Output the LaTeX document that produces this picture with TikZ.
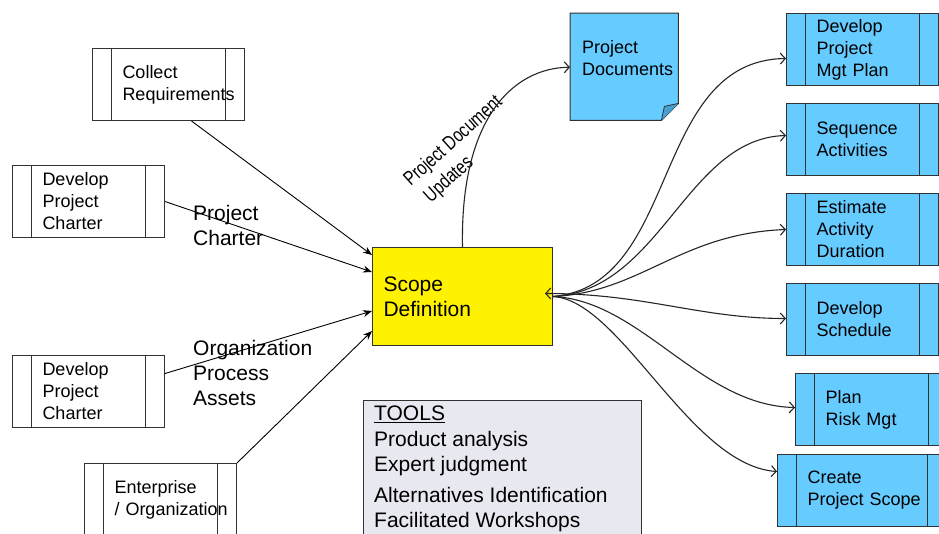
\documentclass[tikz,border=0pt]{standalone}
\usepackage{fontspec}
\setmainfont{Liberation Sans}
\usetikzlibrary{arrows.meta,calc,backgrounds}
\definecolor{procblue}{RGB}{102,204,255}
\definecolor{folddark}{RGB}{70,160,210}
\definecolor{toolsfill}{RGB}{232,232,240}
\definecolor{edgegray}{RGB}{50,50,50}
\newcommand\fBox{\fontsize{18}{22}\selectfont}
\newcommand\fBig{\fontsize{21}{25}\selectfont}
\newcommand\fTools{\fontsize{21}{25.5}\selectfont}
\newcommand\fRot{\fontsize{20}{25.5}\selectfont}
\tikzset{
  proc/.style={rectangle, draw=edgegray, line width=1pt, anchor=north west,
    minimum width=152pt, minimum height=72pt, inner xsep=30pt, inner ysep=0pt,
    text width=92pt, align=left, font=\fBox,
    path picture={
      \draw[edgegray, line width=1pt] ([xshift=19pt]path picture bounding box.north west) -- ([xshift=19pt]path picture bounding box.south west);
      \draw[edgegray, line width=1pt] ([xshift=-19pt]path picture bounding box.north east) -- ([xshift=-19pt]path picture bounding box.south east);}},
  procb/.style={proc, fill=procblue},
  inarrow/.style={draw=black, line width=0.9pt, -{Stealth[length=9pt,width=7pt]}},
  outarrow/.style={draw=black!85, line width=1.1pt, -{Straight Barb[length=5pt,width=11pt]}},
  lbl/.style={inner sep=0pt, align=left, font=\fBig},
}
\begin{document}
\begin{tikzpicture}[x=1pt,y=-1pt]
\clip (0,0) rectangle (939,533);
\begin{scope}[on background layer]
\fill[white] (0,0) rectangle (939,533);
\end{scope}

% input process boxes
\node[proc] (collect) at (92,48) {Collect\\Requirements};
\node[proc] (charterA) at (12,165) {Develop\\Project\\Charter};
\node[proc] (charterB) at (12,355) {Develop\\Project\\Charter};
\node[proc] (ent) at (84,463) {Enterprise\\\mbox{/ Organization}};

% scope definition
\node[rectangle, draw=edgegray, line width=1pt, fill=yellow, anchor=north west,
  minimum width=180pt, minimum height=98pt, inner xsep=11pt, text width=158pt,
  align=left, font=\fBig] (scope) at (372,247) {Scope\\Definition};

% project documents
\node[anchor=north west, minimum width=108pt, minimum height=90pt, inner xsep=12pt,
  text width=84pt, align=left, font=\fBox] (pdocs) at (570,13) {Project\\Documents};
\begin{scope}[on background layer]
\draw[edgegray, line width=1pt, fill=procblue]
  (pdocs.north west) -- (pdocs.north east) -- (pdocs.south east)
  -- ($(pdocs.south east)+(-17,17)$) -- ($(pdocs.south west)+(0,17)$) -- cycle;
\draw[edgegray, line width=0.8pt, fill=folddark]
  ($(pdocs.south east)+(-17,17)$) -- ($(pdocs.south east)+(-14,3)$) -- (pdocs.south east);
\end{scope}

% output process boxes
\node[procb] (mgt) at (786,13) {Develop\\Project\\Mgt Plan};
\node[procb] (seq) at (786,103) {Sequence\\Activities};
\node[procb] (est) at (786,193) {Estimate\\Activity\\Duration};
\node[procb] (sched) at (786,283) {Develop\\Schedule};
\node[procb] (risk) at (795,373) {Plan\\Risk Mgt};
\node[procb, minimum width=169pt, text width=109pt] (create) at (777,454) {Create\\\mbox{Project Scope}};

% tools
\node[rectangle, draw=edgegray, line width=1pt, fill=toolsfill, anchor=north west,
  minimum width=278pt, minimum height=150pt] (tools) at (363,400) {};
\node[anchor=north west, inner sep=0pt, align=left, font=\fTools] (toolstext) at (374,406)
  {\underline{TOOLS}\\Product analysis\\Expert judgment\\[5pt]Alternatives Identification\\Facilitated Workshops};

% labels
\node[lbl, anchor=west] (lblcharter) at (193,225) {Project\\Charter};
\node[lbl, anchor=west] (lblopa) at (193,373) {Organization\\Process\\Assets};
\node[rotate=42, align=left, font=\fRot, inner sep=0pt] (lblupd) at (462,151)
  {\scalebox{0.78}[1]{Project Document}\\\hspace*{4pt}\scalebox{0.78}[1]{Updates}};

% input arrows
\draw[inarrow] ($(collect.south)+(23,0)$) -- ($(scope.north west)+(0,8)$);
\draw[inarrow] (charterA.east) -- ($(scope.north west)+(0,25)$);
\draw[inarrow] ($(charterB.east)+(0,-18)$) -- ($(scope.south west)+(0,-35)$);
\draw[inarrow] (ent.north east) -- ($(scope.south west)+(0,-15)$);

% updates arrow
\draw[outarrow] (scope.north) .. controls (460,120) and (512,68) .. ($(pdocs.west)+(0,9)$);

% fan-out arrows
\draw[outarrow] (scope.east) .. controls +(128,-11) and +(-136,2) .. ($(mgt.west)+(0,9)$);
\draw[outarrow] (scope.east) .. controls +(108,-6) and +(-100,3) .. ($(seq.west)+(0,-4)$);
\draw[outarrow] (scope.east) .. controls +(88,-4) and +(-106,4) .. (est.west);
\draw[outarrow, {Straight Barb[length=5pt,width=11pt]}-{Straight Barb[length=5pt,width=11pt]}]
  ($(scope.east)+(-8,-3)$) .. controls +(100,0) and +(-86,0) .. ($(sched.west)+(0,-1)$);
\draw[outarrow] (scope.east) .. controls +(88,4) and +(-95,-2) .. ($(risk.west)+(0,-2)$);
\draw[outarrow] (scope.east) .. controls +(68,4) and +(-87,-6) .. ($(create.west)+(0,-19)$);
\end{tikzpicture}
\end{document}
